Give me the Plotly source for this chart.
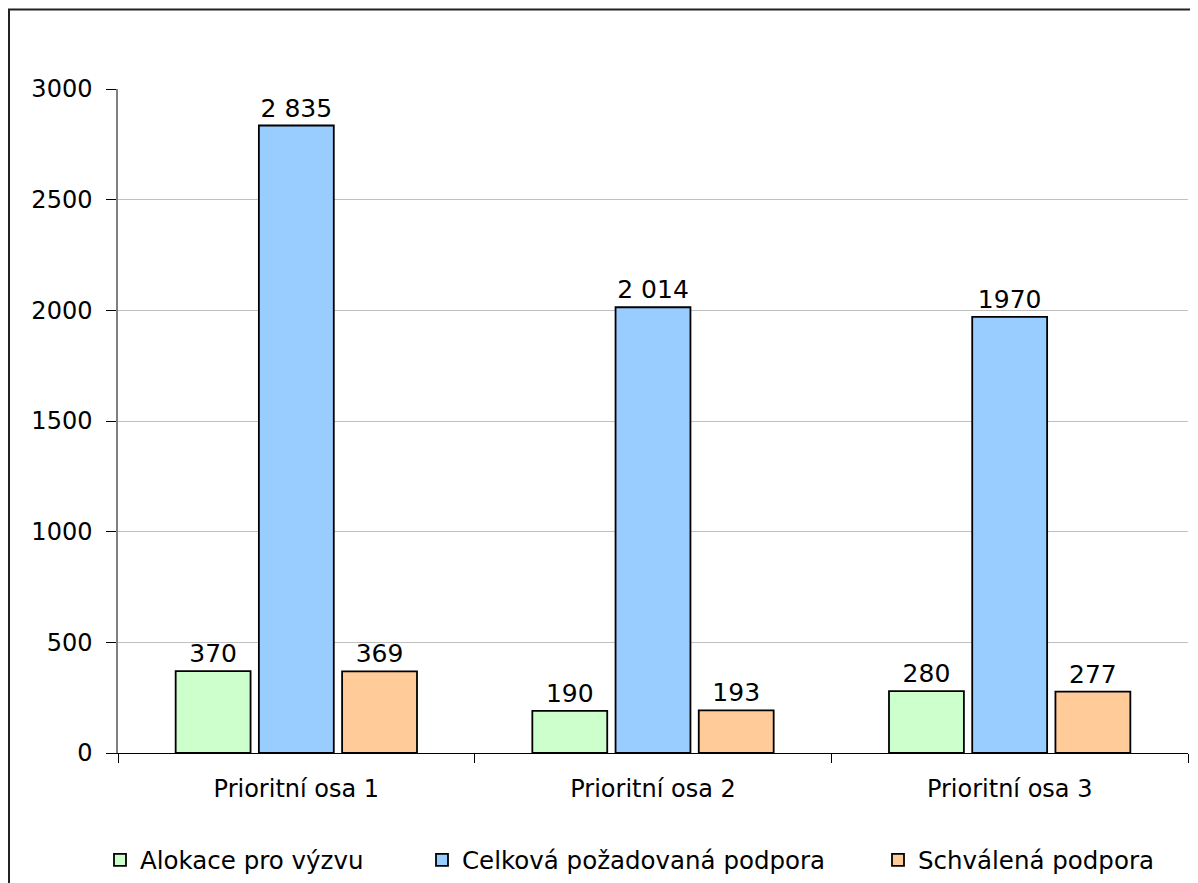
import plotly.graph_objects as go

categories = ["Prioritní osa 1", "Prioritní osa 2", "Prioritní osa 3"]
series_names = ["Alokace pro výzvu", "Celková požadovaná podpora", "Schválená podpora"]
alokace = [370, 190, 280]
celkova = [2835, 2014, 1970]
schvalena = [369, 193, 277]
alokace_labels = ["370", "190", "280"]
celkova_labels = ["2 835", "2 014", "1970"]
schvalena_labels = ["369", "193", "277"]
y_ticks = [0, 500, 1000, 1500, 2000, 2500, 3000]

colors = ["#CCFFCC", "#99CCFF", "#FFCC99"]
FONT = "DejaVu Sans, Liberation Sans, Arial, sans-serif"

W, H = 1190, 875
L, R, T, B = 110, 10, 81, 130
pw, ph = W - L - R, H - T - B


def px_x(p):
    return (p - L) / pw


def px_y(p):
    return (H - B - p) / ph


legend_ids = ["legend", "legend2", "legend3"]
legend_x_px = [92, 414, 870]

fig = go.Figure()
for name, vals, labels, col, lid in zip(series_names, [alokace, celkova, schvalena],
                                        [alokace_labels, celkova_labels, schvalena_labels],
                                        colors, legend_ids):
    fig.add_trace(go.Bar(
        x=categories, y=vals, name=name, text=labels,
        textposition="outside", cliponaxis=False,
        textfont=dict(family=FONT, size=25, color="black"),
        marker=dict(color=col, line=dict(color="black", width=1.8)),
        legend=lid,
    ))

legend_common = dict(orientation="h", xanchor="left", y=px_y(852), yanchor="middle",
                     font=dict(family=FONT, size=24.5, color="black"),
                     bgcolor="rgba(0,0,0,0)", itemwidth=30)

fig.update_layout(
    width=W, height=H,
    margin=dict(l=L, r=R, t=T, b=B, autoexpand=False),
    paper_bgcolor="white", plot_bgcolor="white",
    barmode="group", bargap=0.3, bargroupgap=0.1,
    font=dict(family=FONT, color="black"),
    showlegend=True,
    legend=dict(x=px_x(legend_x_px[0]), **legend_common),
    legend2=dict(x=px_x(legend_x_px[1]), **legend_common),
    legend3=dict(x=px_x(legend_x_px[2]), **legend_common),
    xaxis=dict(showline=True, linecolor="black", linewidth=1, ticks="outside", ticklen=9,
               tickson="boundaries", tickcolor="black", tickfont=dict(size=24),
               ticklabelstandoff=14, showgrid=False, automargin=False),
    yaxis=dict(range=[0, 3000], tickvals=y_ticks, showline=True, linecolor="#808080", linewidth=1.5,
               ticks="outside", ticklen=10, tickcolor="black", showgrid=True, gridcolor="#C0C0C0",
               gridwidth=1, tickfont=dict(size=24), ticklabelstandoff=9, zeroline=False,
               automargin=False),
    shapes=[dict(type="rect", xref="paper", yref="paper",
                 x0=px_x(1), x1=px_x(W + 20), y0=px_y(1.5), y1=px_y(H + 20),
                 line=dict(color="#222222", width=2), fillcolor="rgba(0,0,0,0)", layer="above")],
)

fig.write_html("out.html")
